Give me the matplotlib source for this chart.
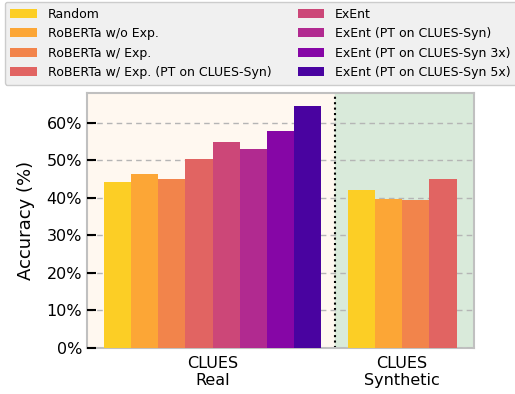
import matplotlib.pyplot as plt
import numpy as np

methods = ['Random', 'RoBERTa w/o Exp.', 'RoBERTa w/ Exp.',
           'RoBERTa w/ Exp. (PT on CLUES-Syn)', 'ExEnt',
           'ExEnt (PT on CLUES-Syn)', 'ExEnt (PT on CLUES-Syn 3x)',
           'ExEnt (PT on CLUES-Syn 5x)']
real_acc = [44.2, 46.3, 45.0, 50.3, 54.9, 53.0, 57.8, 64.5]
synthetic_acc = [42.1, 39.7, 39.4, 45.0]
group_labels = ['CLUES\nReal', 'CLUES\nSynthetic']

cmap = plt.get_cmap('plasma')
colors = [cmap(v) for v in [0.9, 0.8, 0.7, 0.6, 0.5, 0.4, 0.27, 0.12]]

fig = plt.figure(figsize=(5.15, 3.94), dpi=100)
ax = fig.add_axes([0.169, 0.117, 0.751, 0.647])

w = 0.1435
divider = 0.643
ax.set_xlim(-0.663, 1.378)
ax.set_ylim(0, 68)

# shaded backgrounds for the two dataset groups
ax.axvspan(-0.663, divider, color='#fff8f0', zorder=0)
ax.axvspan(divider, 1.378, color='#d9eada', zorder=0)
ax.axvline(divider, color='black', linestyle=(0, (1, 1.6)), linewidth=1.5, zorder=1)

handles = []
for i, (m, v) in enumerate(zip(methods, real_acc)):
    b = ax.bar(0 + (i - 3.5) * w, v, width=w, color=colors[i], label=m, zorder=3)
    handles.append(b)
for i, v in enumerate(synthetic_acc):
    ax.bar(1 + (i - 1.5) * w, v, width=w, color=colors[i], zorder=3)

ax.yaxis.grid(True, linestyle=(0, (4, 3)), color='#b5b5b5', linewidth=1, zorder=2)
ax.set_axisbelow(False)
ax.set_yticks(np.arange(0, 61, 10))
ax.set_yticklabels([f'{t}%' for t in range(0, 61, 10)])
ax.set_xticks([0, 1])
ax.set_xticklabels(group_labels)
ax.tick_params(axis='y', direction='in', length=6.5, width=1.5, labelsize=11.5, color='black')
ax.tick_params(axis='x', direction='in', length=5, width=1.5, labelsize=11.5,
               color='black', pad=5.5)
ax.set_ylabel('Accuracy (%)', fontsize=13, labelpad=8)

for s in ax.spines.values():
    s.set_color('#c0c0c0')
    s.set_linewidth(1.5)

fig.legend(handles=handles, loc='upper left', bbox_to_anchor=(0.009, 0.995),
           borderaxespad=0, ncol=2, fontsize=9, frameon=True, facecolor='#f0f0f0',
           edgecolor='#cccccc', framealpha=1, handlelength=2.1,
           handletextpad=0.9, columnspacing=2.1, labelspacing=0.52,
           borderpad=0.45)

fig.savefig('out.png', dpi=100)
